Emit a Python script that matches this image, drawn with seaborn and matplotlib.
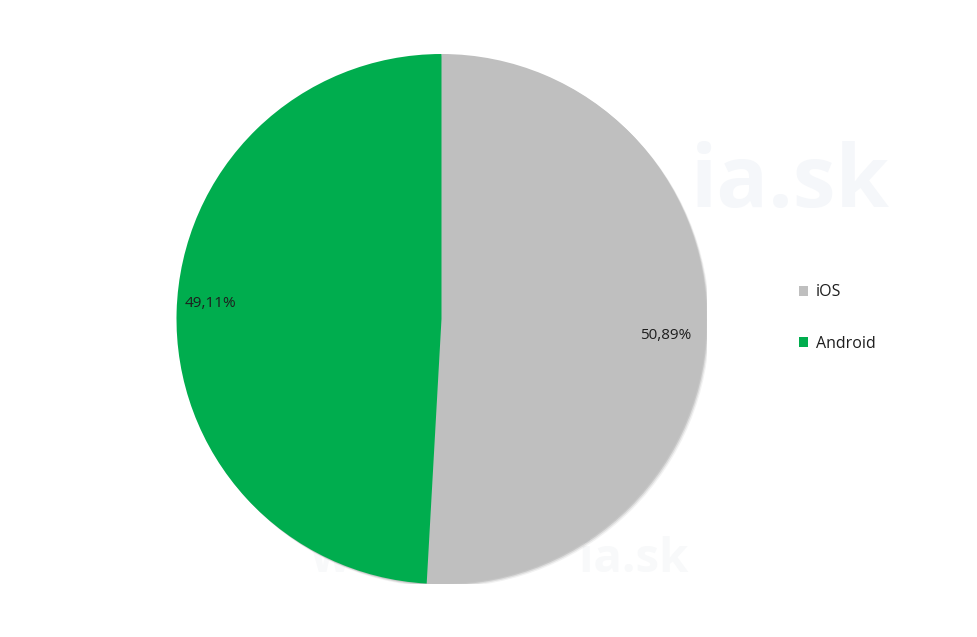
import matplotlib
matplotlib.use("Agg")
import matplotlib.pyplot as plt
from matplotlib.patches import Circle, Patch
import seaborn as sns

# ---- data ----
platforms = ["iOS", "Android"]
shares = [50.89, 49.11]
colors = ["#bfbfbf", "#00ad4e"]

sns.set_theme(style="white")
plt.rcParams['font.family'] = ['Open Sans', 'DejaVu Sans']

W, H = 977, 637
fig = plt.figure(figsize=(W / 100, H / 100), dpi=100)
fig.patch.set_facecolor("white")

# faint watermark in a background axes
bg = fig.add_axes([0, 0, 1, 1], zorder=0)
bg.set_axis_off()
bg.set_xlim(0, W)
bg.set_ylim(H, 0)
bg.text(790, 185, "ia.sk", fontsize=62, fontweight="bold",
        color="#f5f7fa", ha="center", va="center")
bg.text(500, 560, "www.           ia.sk", fontsize=34, fontweight="bold",
        color="#f8f9fa", ha="center", va="center")

# pie centre ~ (441, 319) px, radius ~ 265 px
cx, cy, r = 441.5, 319, 265
ax = fig.add_axes([(cx - r) / W, (H - cy - r) / H, 2 * r / W, 2 * r / H], zorder=1)
ax.patch.set_alpha(0)

# soft shadow under the pie
for k, a in [(0.004, 0.25), (0.008, 0.18), (0.012, 0.1)]:
    ax.add_patch(Circle((k, -k), 1, color="#808080", alpha=a, lw=0, zorder=0))

wedges, texts, autotexts = ax.pie(
    shares, colors=colors, startangle=90, counterclock=False,
    autopct=lambda p: f"{p:.2f}%".replace(".", ","), pctdistance=0.86,
    wedgeprops=dict(linewidth=0, zorder=1),
    textprops=dict(fontsize=11, color="#1e1e1e"),
)
# labels sit a little off the wedge centre in the original
offsets = [(-0.015, -0.037), (-0.012, 0.035)]
for t, (dx, dy) in zip(autotexts, offsets):
    x, y = t.get_position()
    t.set_position((x + dx, y + dy))
    t.set_zorder(3)
ax.set_xlim(-1, 1)
ax.set_ylim(-1, 1)

handles = [Patch(facecolor=c, edgecolor="none") for c in colors]
leg = fig.legend(handles, platforms, loc="center left",
                 bbox_to_anchor=(785 / W, 1 - 318 / H), frameon=False,
                 fontsize=11.5, handlelength=0.55, handleheight=0.55,
                 handletextpad=0.5, labelspacing=2.2)
for t in leg.get_texts():
    t.set_color("#1e1e1e")

fig.savefig("out.png", dpi=100)
